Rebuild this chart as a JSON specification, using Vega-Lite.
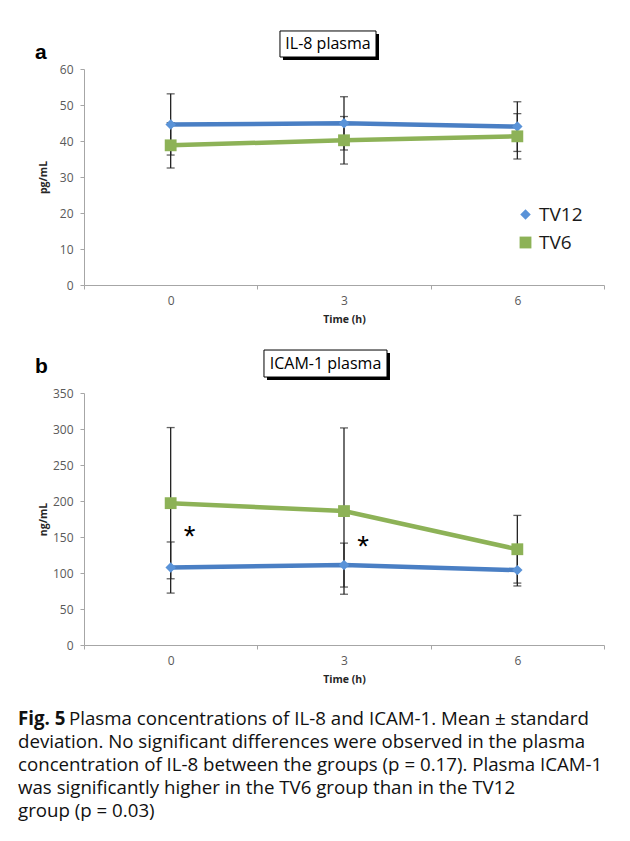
{
  "$schema": "https://vega.github.io/schema/vega-lite/v6.json",
  "padding": {"left": 18, "top": 30, "right": 5, "bottom": 5},
  "background": "white",
  "datasets": {
    "il8": [
      {"time": 0, "group": "TV12", "mean": 44.6, "sd": 8.5},
      {"time": 3, "group": "TV12", "mean": 44.9, "sd": 7.4},
      {"time": 6, "group": "TV12", "mean": 44.0, "sd": 6.9},
      {"time": 0, "group": "TV6", "mean": 38.8, "sd": 6.3},
      {"time": 3, "group": "TV6", "mean": 40.2, "sd": 6.6},
      {"time": 6, "group": "TV6", "mean": 41.3, "sd": 6.3}
    ],
    "icam": [
      {"time": 0, "group": "TV12", "mean": 107.6, "sd": 35.5},
      {"time": 3, "group": "TV12", "mean": 111, "sd": 30.5},
      {"time": 6, "group": "TV12", "mean": 104, "sd": 22},
      {"time": 0, "group": "TV6", "mean": 197, "sd": 105},
      {"time": 3, "group": "TV6", "mean": 186, "sd": 115.5},
      {"time": 6, "group": "TV6", "mean": 133, "sd": 47}
    ],
    "stars": [
      {"time": 0, "value": 154, "label": "*"},
      {"time": 3, "value": 140, "label": "*"}
    ]
  },
  "title": {
    "text": [
      "deviation. No significant differences were observed in the plasma",
      "concentration of IL-8 between the groups (p = 0.17). Plasma ICAM-1",
      "was significantly higher in the TV6 group than in the TV12",
      "group (p = 0.03)"
    ],
    "orient": "bottom",
    "anchor": "start",
    "frame": "bounds",
    "dx": 0,
    "offset": 4.4,
    "baseline": "top",
    "lineHeight": 23.1,
    "font": "Open Sans",
    "fontSize": 18.7,
    "fontWeight": "normal",
    "color": "#111111"
  },
  "config": {
    "view": {"stroke": null},
    "axis": {
      "grid": false,
      "domainColor": "#a6a6a6",
      "tickColor": "#a6a6a6",
      "tickSize": 4,
      "labelFont": "Open Sans",
      "labelFontSize": 12,
      "labelColor": "#595959",
      "labelOverlap": false,
      "titleFont": "Open Sans",
      "titleFontSize": 10.5,
      "titleFontWeight": "bold",
      "titleColor": "#262626"
    },
    "axisY": {"labelPadding": 7, "titleX": -41, "titleBaseline": "middle"},
    "axisX": {"labelPadding": 6, "titlePadding": 8}
  },
  "vconcat": [
    {
      "title": {
        "text": "Plasma concentrations of IL-8 and ICAM-1. Mean ± standard",
        "orient": "bottom",
        "anchor": "start",
        "frame": "bounds",
        "dx": 51,
        "offset": -18.7,
        "baseline": "top",
        "font": "Open Sans",
        "fontSize": 18.7,
        "fontWeight": "normal",
        "color": "#111111"
      },
      "vconcat": [
        {
          "title": {
            "text": "Fig. 5",
            "orient": "bottom",
            "anchor": "start",
            "frame": "bounds",
            "dx": -17,
            "offset": 25,
            "baseline": "top",
            "font": "Open Sans",
            "fontSize": 18.7,
            "fontWeight": "bold",
            "color": "#111111"
          },
          "bounds": "flush",
          "spacing": 108,
          "vconcat": [
            {
              "width": 520,
              "height": 216,
              "title": {"text": "a", "anchor": "start", "frame": "bounds", "dx": -3, "offset": -33, "font": "Liberation Sans", "fontSize": 21, "fontWeight": "bold", "color": "#000000"},
              "layer": [
                {"data": {"name": "il8"},
                 "mark": {"type": "errorbar", "color": "#222222", "thickness": 1.3, "ticks": {"size": 8, "thickness": 1.3, "color": "#222222"}},
                 "encoding": {
                   "x": {"field": "time", "type": "quantitative", "title": "Time (h)",
                     "scale": {"domain": [-1.5, 7.5], "nice": false, "zero": false},
                     "axis": {"values": [-1.5, 0, 1.5, 3, 4.5, 6, 7.5], "format": "d",
                       "labelExpr": "datum.value % 3 === 0 ? datum.label : ''",
                       "tickOpacity": {"condition": {"test": "datum.value % 3 === 0", "value": 0}, "value": 1}}},
                   "y": {"field": "mean", "type": "quantitative", "title": "pg/mL",
                     "scale": {"domain": [0, 60], "nice": false},
                     "axis": {"values": [0, 10, 20, 30, 40, 50, 60]}},
                   "yError": {"field": "sd"}}},
                {"data": {"name": "il8"},
                 "mark": {"type": "line", "strokeWidth": 4.5},
                 "encoding": {
                   "x": {"field": "time", "type": "quantitative", "title": "Time (h)"},
                   "y": {"field": "mean", "type": "quantitative", "title": "pg/mL", "axis": {"values": [0, 10, 20, 30, 40, 50, 60]}},
                   "detail": {"field": "group"},
                   "color": {"condition": {"test": "datum.group === 'TV12'", "value": "#4a7fc4"}, "value": "#8db257"}}},
                {"data": {"name": "il8"},
                 "mark": {"type": "point", "filled": true, "opacity": 1},
                 "encoding": {
                   "x": {"field": "time", "type": "quantitative", "title": "Time (h)"},
                   "y": {"field": "mean", "type": "quantitative", "title": "pg/mL", "axis": {"values": [0, 10, 20, 30, 40, 50, 60]}},
                   "color": {"field": "group", "type": "nominal", "scale": {"domain": ["TV12", "TV6"], "range": ["#5a93d8", "#8db257"]},
                     "legend": {"title": null, "orient": "none", "legendX": 432, "legendY": 136, "padding": 0, "labelFont": "Open Sans", "labelFontSize": 19, "labelColor": "#1a1a1a", "symbolSize": 260, "rowPadding": 8, "labelOffset": 4,
                       "encode": {"symbols": {"update": {"size": {"signal": "datum.value === 'TV12' ? 330 : 180"}}}}}},
                   "shape": {"field": "group", "type": "nominal", "scale": {"domain": ["TV12", "TV6"], "range": ["diamond", "square"]},
                     "legend": {"title": null, "orient": "none", "legendX": 432, "legendY": 136, "padding": 0, "labelFont": "Open Sans", "labelFontSize": 19, "labelColor": "#1a1a1a", "symbolSize": 260, "rowPadding": 8, "labelOffset": 4,
                       "encode": {"symbols": {"update": {"size": {"signal": "datum.value === 'TV12' ? 330 : 180"}}}}}},
                   "size": {"field": "group", "type": "nominal", "scale": {"domain": ["TV12", "TV6"], "range": [110, 140]}, "legend": null}
                 }},
                {"data": {"values": [{}]},
                 "mark": {"type": "rect", "fill": "#000000", "xOffset": 3, "x2Offset": 3, "yOffset": 3, "y2Offset": 3},
                 "encoding": {"x": {"datum": 1.892, "type": "quantitative", "title": "Time (h)"}, "x2": {"datum": 3.554}, "y": {"datum": 70.56, "type": "quantitative", "title": "pg/mL", "axis": {"values": [0, 10, 20, 30, 40, 50, 60]}}, "y2": {"datum": 63.33}}},
                {"data": {"values": [{}]},
                 "mark": {"type": "rect", "fill": "#ffffff", "stroke": "#000000", "strokeWidth": 1},
                 "encoding": {"x": {"datum": 1.892, "type": "quantitative", "title": "Time (h)"}, "x2": {"datum": 3.554}, "y": {"datum": 70.56, "type": "quantitative", "title": "pg/mL", "axis": {"values": [0, 10, 20, 30, 40, 50, 60]}}, "y2": {"datum": 63.33}}},
                {"data": {"values": [{}]},
                 "mark": {"type": "text", "text": "IL-8 plasma", "font": "Open Sans", "fontSize": 16, "color": "#000000", "align": "center", "baseline": "middle"},
                 "encoding": {"x": {"datum": 2.723, "type": "quantitative", "title": "Time (h)"}, "y": {"datum": 66.94, "type": "quantitative", "title": "pg/mL", "axis": {"values": [0, 10, 20, 30, 40, 50, 60]}}}}
              ]
            },
            {
              "width": 520,
              "height": 252,
              "title": {"text": "b", "anchor": "start", "frame": "bounds", "dx": -3, "offset": -27, "font": "Liberation Sans", "fontSize": 21, "fontWeight": "bold", "color": "#000000"},
              "layer": [
                {"data": {"name": "icam"},
                 "mark": {"type": "errorbar", "color": "#222222", "thickness": 1.3, "ticks": {"size": 8, "thickness": 1.3, "color": "#222222"}},
                 "encoding": {
                   "x": {"field": "time", "type": "quantitative", "title": "Time (h)",
                     "scale": {"domain": [-1.5, 7.5], "nice": false, "zero": false},
                     "axis": {"values": [-1.5, 0, 1.5, 3, 4.5, 6, 7.5], "format": "d",
                       "labelExpr": "datum.value % 3 === 0 ? datum.label : ''",
                       "tickOpacity": {"condition": {"test": "datum.value % 3 === 0", "value": 0}, "value": 1}}},
                   "y": {"field": "mean", "type": "quantitative", "title": "ng/mL",
                     "scale": {"domain": [0, 350], "nice": false},
                     "axis": {"values": [0, 50, 100, 150, 200, 250, 300, 350]}},
                   "yError": {"field": "sd"}}},
                {"data": {"name": "icam"},
                 "mark": {"type": "line", "strokeWidth": 4.5},
                 "encoding": {
                   "x": {"field": "time", "type": "quantitative", "title": "Time (h)"},
                   "y": {"field": "mean", "type": "quantitative", "title": "ng/mL", "axis": {"values": [0, 50, 100, 150, 200, 250, 300, 350]}},
                   "detail": {"field": "group"},
                   "color": {"condition": {"test": "datum.group === 'TV12'", "value": "#4a7fc4"}, "value": "#8db257"}}},
                {"data": {"name": "icam"},
                 "mark": {"type": "point", "filled": true, "opacity": 1},
                 "encoding": {
                   "x": {"field": "time", "type": "quantitative", "title": "Time (h)"},
                   "y": {"field": "mean", "type": "quantitative", "title": "ng/mL", "axis": {"values": [0, 50, 100, 150, 200, 250, 300, 350]}},
                   "color": {"field": "group", "type": "nominal", "scale": {"domain": ["TV12", "TV6"], "range": ["#5a93d8", "#8db257"]}, "legend": null},
                   "shape": {"field": "group", "type": "nominal", "scale": {"domain": ["TV12", "TV6"], "range": ["diamond", "square"]}, "legend": null},
                   "size": {"field": "group", "type": "nominal", "scale": {"domain": ["TV12", "TV6"], "range": [110, 140]}, "legend": null}
                 }},
                {"data": {"name": "stars"},
                 "mark": {"type": "text", "font": "Liberation Sans", "fontSize": 30, "color": "#000000", "align": "center", "baseline": "middle", "dx": 19, "dy": 3},
                 "encoding": {"x": {"field": "time", "type": "quantitative", "title": "Time (h)"}, "y": {"field": "value", "type": "quantitative", "title": "ng/mL", "axis": {"values": [0, 50, 100, 150, 200, 250, 300, 350]}}, "text": {"field": "label"}}},
                {"data": {"values": [{}]},
                 "mark": {"type": "rect", "fill": "#000000", "xOffset": 3, "x2Offset": 3, "yOffset": 3, "y2Offset": 3},
                 "encoding": {"x": {"datum": 1.615, "type": "quantitative", "title": "Time (h)"}, "x2": {"datum": 3.744}, "y": {"datum": 409.7, "type": "quantitative", "title": "ng/mL", "axis": {"values": [0, 50, 100, 150, 200, 250, 300, 350]}}, "y2": {"datum": 372.2}}},
                {"data": {"values": [{}]},
                 "mark": {"type": "rect", "fill": "#ffffff", "stroke": "#000000", "strokeWidth": 1},
                 "encoding": {"x": {"datum": 1.615, "type": "quantitative", "title": "Time (h)"}, "x2": {"datum": 3.744}, "y": {"datum": 409.7, "type": "quantitative", "title": "ng/mL", "axis": {"values": [0, 50, 100, 150, 200, 250, 300, 350]}}, "y2": {"datum": 372.2}}},
                {"data": {"values": [{}]},
                 "mark": {"type": "text", "text": "ICAM-1 plasma", "font": "Open Sans", "fontSize": 16, "color": "#000000", "align": "center", "baseline": "middle"},
                 "encoding": {"x": {"datum": 2.68, "type": "quantitative", "title": "Time (h)"}, "y": {"datum": 389.6, "type": "quantitative", "title": "ng/mL", "axis": {"values": [0, 50, 100, 150, 200, 250, 300, 350]}}}}
              ]
            }
          ]
        }
      ]
    }
  ]
}
